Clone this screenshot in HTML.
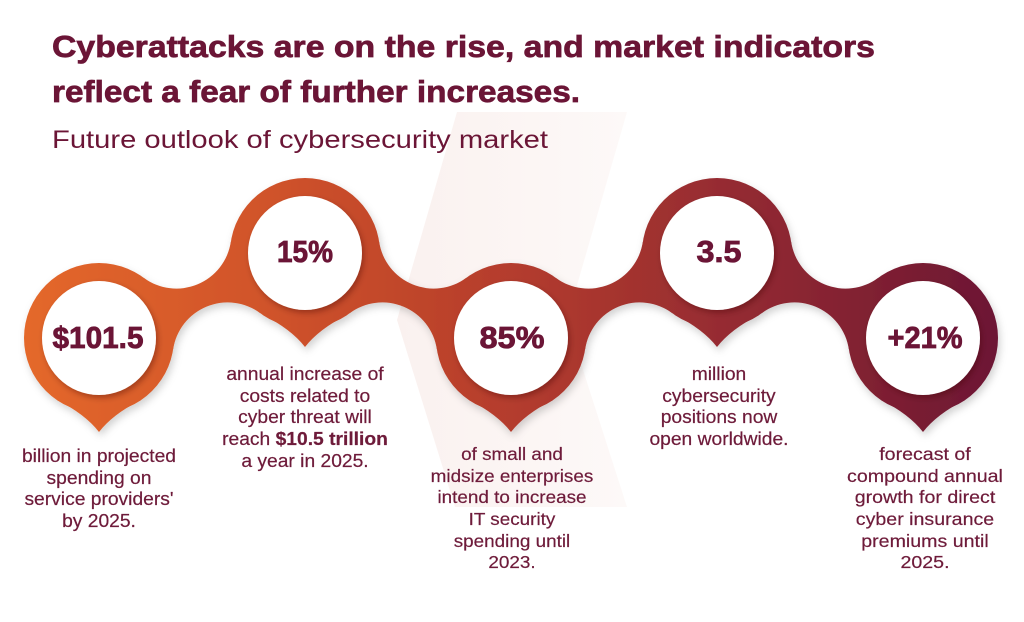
<!DOCTYPE html>
<html>
<head>
<meta charset="utf-8">
<style>
  html, body { margin: 0; padding: 0; background: #ffffff; }
  body { width: 1024px; height: 622px; overflow: hidden; }
  svg { display: block; }
  .t { font-family: "Liberation Sans", sans-serif; fill: #6B1536; }
  .tb { stroke: #6B1536; stroke-width: 0.7px; }
  .body { font-family: "Liberation Sans", sans-serif; font-size: 18px; fill: #6E1B3A; stroke: #6E1B3A; stroke-width: 0.2px; }
  .num { font-family: "Liberation Sans", sans-serif; font-size: 31px; font-weight: bold; fill: #6B1536; stroke: #6B1536; stroke-width: 0.8px; }
</style>
</head>
<body>
<svg width="1024" height="622" viewBox="0 0 1024 622" xmlns="http://www.w3.org/2000/svg">
  <defs>
    <linearGradient id="rib" gradientUnits="userSpaceOnUse" x1="24" y1="0" x2="1000" y2="0">
      <stop offset="0" stop-color="#E4682A"/>
      <stop offset="0.25" stop-color="#D0532A"/>
      <stop offset="0.5" stop-color="#B43C2D"/>
      <stop offset="0.75" stop-color="#912931"/>
      <stop offset="1" stop-color="#6C1634"/>
    </linearGradient>
    <linearGradient id="bgshape" gradientUnits="userSpaceOnUse" x1="397" y1="0" x2="627" y2="0">
      <stop offset="0" stop-color="#FAF1EF"/>
      <stop offset="1" stop-color="#FDF9F8"/>
    </linearGradient>
    <filter id="sh" x="-10%" y="-30%" width="120%" height="160%">
      <feDropShadow dx="2" dy="4" stdDeviation="4" flood-color="#000" flood-opacity="0.18"/>
    </filter>
    <filter id="wsh" x="-30%" y="-30%" width="160%" height="160%">
      <feDropShadow dx="2" dy="3" stdDeviation="3" flood-color="#3a0a10" flood-opacity="0.35"/>
    </filter>
  </defs>

  <!-- faint background chevron -->
  <polygon points="457,112 627,112 567,320 627,507 455,507 397,320" fill="url(#bgshape)"/>

  <!-- Title -->
  <text class="t tb" x="52" y="57" font-size="31" font-weight="bold" textLength="823" lengthAdjust="spacingAndGlyphs">Cyberattacks are on the rise, and market indicators</text>
  <text class="t tb" x="52" y="102" font-size="31" font-weight="bold" textLength="528" lengthAdjust="spacingAndGlyphs">reflect a fear of further increases.</text>
  <text class="t" x="52" y="148" font-size="25" textLength="496" lengthAdjust="spacingAndGlyphs">Future outlook of cybersecurity market</text>

  <!-- Ribbon -->
  <g fill="url(#rib)" filter="url(#sh)">
    <circle cx="99" cy="338" r="75"/>
    <circle cx="305" cy="253" r="75"/>
    <circle cx="511" cy="338" r="75"/>
    <circle cx="717" cy="253" r="75"/>
    <circle cx="923" cy="338" r="75"/>
    <path d="M143.66,277.75 A55.04,55.04 0 0 0 230.85,241.77 L305,253 L260.34,313.25 A55.04,55.04 0 0 0 173.15,349.23 L99,338 Z"/>
    <path d="M466.34,277.75 A55.04,55.04 0 0 1 379.15,241.77 L305,253 L349.66,313.25 A55.04,55.04 0 0 1 436.85,349.23 L511,338 Z"/>
    <path d="M555.66,277.75 A55.04,55.04 0 0 0 642.85,241.77 L717,253 L672.34,313.25 A55.04,55.04 0 0 0 585.15,349.23 L511,338 Z"/>
    <path d="M878.34,277.75 A55.04,55.04 0 0 1 791.15,241.77 L717,253 L761.66,313.25 A55.04,55.04 0 0 1 848.85,349.23 L923,338 Z"/>
    <path d="M57,400 Q85,414 99,432 Q113,414 141,400 Z"/>
    <path d="M263,315 Q291,329 305,347 Q319,329 347,315 Z"/>
    <path d="M469,400 Q497,414 511,432 Q525,414 553,400 Z"/>
    <path d="M675,315 Q703,329 717,347 Q731,329 759,315 Z"/>
    <path d="M881,400 Q909,414 923,432 Q937,414 965,400 Z"/>
  </g>

  <!-- white inner circles -->
  <g fill="#ffffff" filter="url(#wsh)">
    <circle cx="99" cy="338" r="57"/>
    <circle cx="305" cy="253" r="57"/>
    <circle cx="511" cy="338" r="57"/>
    <circle cx="717" cy="253" r="57"/>
    <circle cx="923" cy="338" r="57"/>
  </g>

  <!-- numbers -->
  <text class="num" x="98" y="348" text-anchor="middle" textLength="91" lengthAdjust="spacingAndGlyphs">$101.5</text>
  <text class="num" x="305" y="262" text-anchor="middle" textLength="56" lengthAdjust="spacingAndGlyphs">15%</text>
  <text class="num" x="512" y="348" text-anchor="middle" textLength="65" lengthAdjust="spacingAndGlyphs">85%</text>
  <text class="num" x="719" y="262" text-anchor="middle" textLength="45" lengthAdjust="spacingAndGlyphs">3.5</text>
  <text class="num" x="925" y="348" text-anchor="middle" textLength="75" lengthAdjust="spacingAndGlyphs">+21%</text>

  <!-- descriptions -->
  <g class="body" text-anchor="middle" transform="translate(99,0) scale(1.07,1) translate(-99,0)">
    <text x="99" y="462">billion in projected</text>
    <text x="99" y="484">spending on</text>
    <text x="99" y="505">service providers'</text>
    <text x="99" y="527">by 2025.</text>
  </g>
  <g class="body" text-anchor="middle" transform="translate(305,0) scale(1.07,1) translate(-305,0)">
    <text x="305" y="380">annual increase of</text>
    <text x="305" y="402">costs related to</text>
    <text x="305" y="423">cyber threat will</text>
    <text x="305" y="445">reach <tspan font-weight="bold">$10.5 trillion</tspan></text>
    <text x="305" y="467">a year in 2025.</text>
  </g>
  <g class="body" text-anchor="middle" transform="translate(512,0) scale(1.05,1) translate(-512,0)">
    <text x="512" y="460">of small and</text>
    <text x="512" y="482">midsize enterprises</text>
    <text x="512" y="503">intend to increase</text>
    <text x="512" y="525">IT security</text>
    <text x="512" y="547">spending until</text>
    <text x="512" y="568">2023.</text>
  </g>
  <g class="body" text-anchor="middle" transform="translate(719,0) scale(1.07,1) translate(-719,0)">
    <text x="719" y="380">million</text>
    <text x="719" y="402">cybersecurity</text>
    <text x="719" y="423">positions now</text>
    <text x="719" y="445">open worldwide.</text>
  </g>
  <g class="body" text-anchor="middle" transform="translate(925,0) scale(1.09,1) translate(-925,0)">
    <text x="925" y="460">forecast of</text>
    <text x="925" y="482">compound annual</text>
    <text x="925" y="503">growth for direct</text>
    <text x="925" y="525">cyber insurance</text>
    <text x="925" y="547">premiums until</text>
    <text x="925" y="568">2025.</text>
  </g>
</svg>
</body>
</html>
